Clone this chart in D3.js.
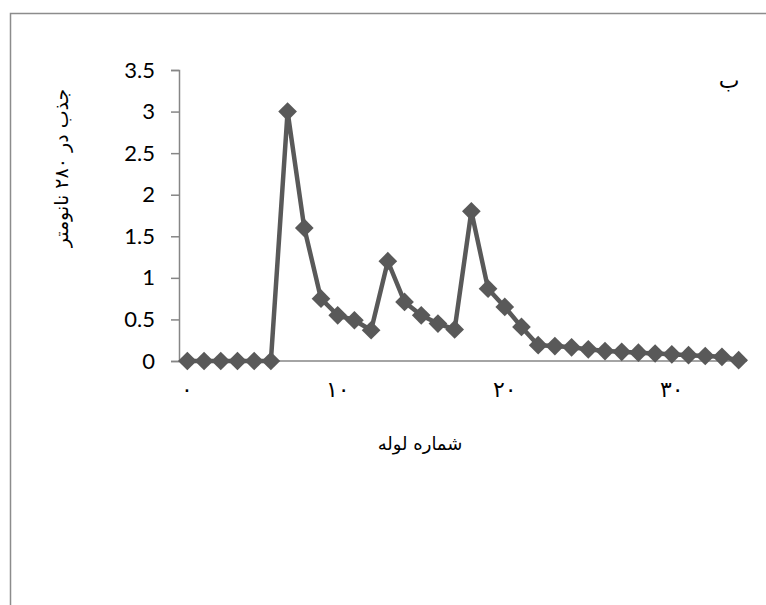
<!DOCTYPE html>
<html>
<head>
<meta charset="utf-8">
<script src="https://cdn.jsdelivr.net/npm/d3@7"></script>
<style>
  html, body { margin: 0; padding: 0; background: #fff; }
  svg { display: block; }
</style>
</head>
<body>
<svg id="chart" width="766" height="605"></svg>
<script>
// tube numbers and absorbance at 280 nm
const tubes = d3.range(1, 35);
const absorbance = [0, 0, 0, 0, 0, 0, 3.0, 1.6, 0.75, 0.55, 0.49, 0.37, 1.2, 0.71, 0.55, 0.45, 0.38,
    1.8, 0.87, 0.65, 0.41, 0.19, 0.18, 0.165, 0.14, 0.12, 0.11, 0.10, 0.09, 0.08, 0.07, 0.06, 0.05, 0.01];
const yTicks = [0, 0.5, 1, 1.5, 2, 2.5, 3, 3.5];
const xTicks = [0, 10, 20, 30];
const yTitle = "جذب در ۲۸۰ نانومتر";
const xTitle = "شماره لوله";
const panelLabel = "ب";

const svg = d3.select("#chart");
const persianFont = "'DejaVu Sans', sans-serif";
const toPersian = n => String(n).replace(/\d/g, d => "۰۱۲۳۴۵۶۷۸۹"[d]);

// outer frame (only top and left edges are visible)
svg.append("path")
    .attr("d", "M10.5,605 V13.5 H766")
    .attr("fill", "none")
    .attr("stroke", "#8c8c8c")
    .attr("stroke-width", 1.5);

const plot = { left: 179, right: 747, top: 70, bottom: 361 };

const x = d3.scaleLinear().domain([0.5, 34.5]).range([plot.left, plot.right]);
const y = d3.scaleLinear().domain([0, 3.5]).range([plot.bottom, plot.top]);

// y axis
const yAxis = svg.append("g")
    .attr("transform", `translate(${plot.left},0)`)
    .call(d3.axisLeft(y).tickValues(yTicks).tickSize(8).tickPadding(16).tickFormat(d3.format("")));
yAxis.select(".domain").attr("stroke", "#868686").attr("stroke-width", 1.5);
yAxis.selectAll(".tick line").attr("stroke", "#868686").attr("stroke-width", 1.5);
yAxis.selectAll(".tick text")
    .attr("fill", "#000")
    .style("font-family", "Lato, sans-serif")
    .style("font-size", "22px");

// x axis line
svg.append("line")
    .attr("x1", plot.left).attr("x2", plot.right)
    .attr("y1", plot.bottom).attr("y2", plot.bottom)
    .attr("stroke", "#868686")
    .attr("stroke-width", 1.5);

// x tick labels (persian digits), first one kept inside the plot
svg.append("g").selectAll("text")
    .data(xTicks)
    .join("text")
    .attr("x", d => Math.max(x(d), plot.left + 8))
    .attr("y", 397)
    .attr("text-anchor", "middle")
    .attr("fill", "#000")
    .style("font-family", persianFont)
    .style("font-size", "22px")
    .text(d => toPersian(d));

// line + diamonds
const data = tubes.map((t, i) => ({ t, v: absorbance[i] }));

svg.append("path")
    .datum(data)
    .attr("fill", "none")
    .attr("stroke", "#595959")
    .attr("stroke-width", 4.5)
    .attr("stroke-linejoin", "round")
    .attr("d", d3.line().x(d => x(d.t)).y(d => y(d.v)));

svg.append("g").selectAll("path")
    .data(data)
    .join("path")
    .attr("transform", d => `translate(${x(d.t)},${y(d.v)}) rotate(45)`)
    .attr("d", d3.symbol().type(d3.symbolSquare).size(175))
    .attr("fill", "#595959");

// titles
svg.append("text")
    .attr("transform", "translate(68,168) rotate(-90)")
    .attr("text-anchor", "middle")
    .attr("direction", "rtl")
    .attr("fill", "#000")
    .style("font-family", persianFont)
    .style("font-size", "19px")
    .text(yTitle);

svg.append("text")
    .attr("x", 420)
    .attr("y", 450)
    .attr("text-anchor", "middle")
    .attr("direction", "rtl")
    .attr("fill", "#000")
    .style("font-family", persianFont)
    .style("font-size", "18px")
    .text(xTitle);

svg.append("text")
    .attr("x", 729)
    .attr("y", 88)
    .attr("text-anchor", "middle")
    .attr("fill", "#000")
    .style("font-family", persianFont)
    .style("font-size", "22px")
    .text(panelLabel);
</script>
</body>
</html>
